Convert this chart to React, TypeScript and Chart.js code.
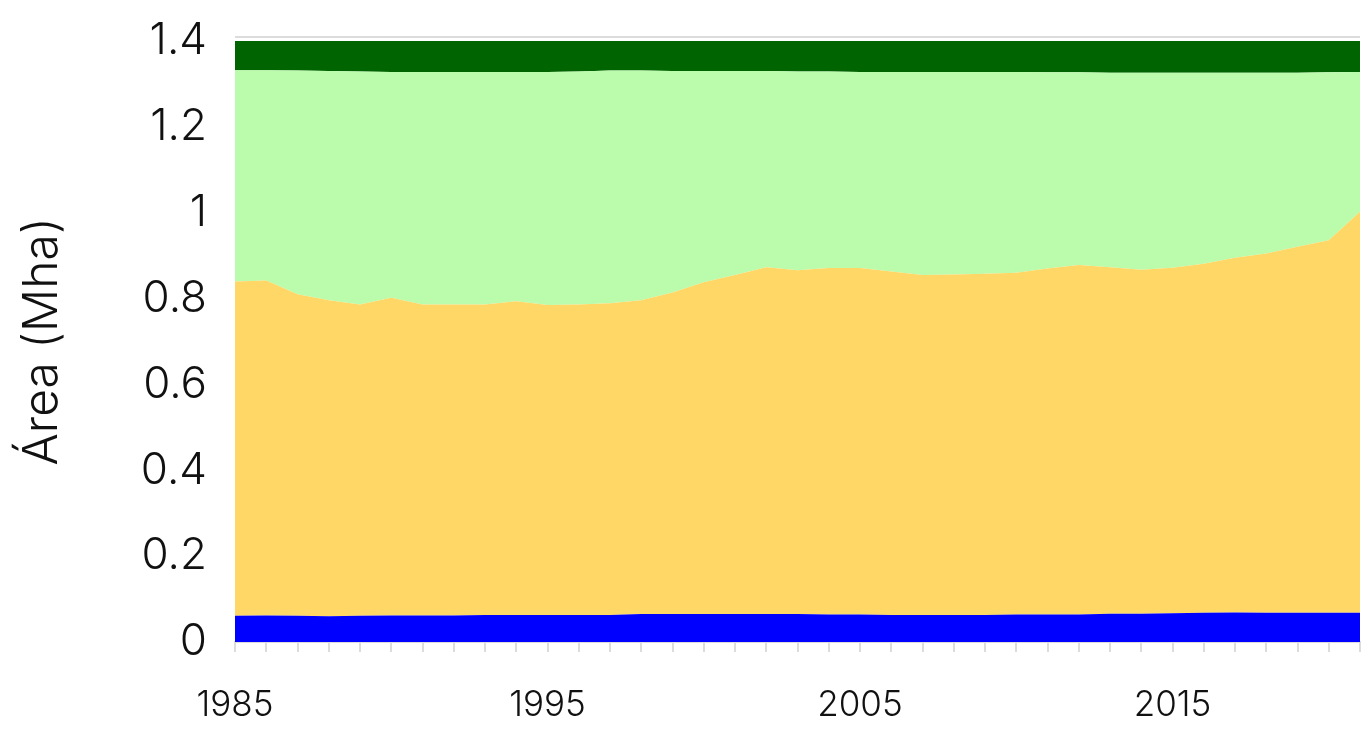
import React, { useEffect, useRef } from "react";
import { Chart, registerables } from "chart.js";

Chart.register(...registerables);

const years = [
  1985, 1986, 1987, 1988, 1989, 1990, 1991, 1992, 1993, 1994, 1995, 1996, 1997,
  1998, 1999, 2000, 2001, 2002, 2003, 2004, 2005, 2006, 2007, 2008, 2009, 2010,
  2011, 2012, 2013, 2014, 2015, 2016, 2017, 2018, 2019, 2020, 2021,
];

const waterValues = [
  0.061, 0.062, 0.061, 0.06, 0.061, 0.062, 0.062, 0.062, 0.063, 0.063, 0.063,
  0.063, 0.063, 0.065, 0.065, 0.065, 0.065, 0.065, 0.065, 0.064, 0.064, 0.063,
  0.063, 0.063, 0.063, 0.064, 0.064, 0.064, 0.066, 0.066, 0.067, 0.068, 0.069,
  0.068, 0.068, 0.068, 0.068,
];

const farmingValues = [
  0.779, 0.78, 0.749, 0.736, 0.725, 0.74, 0.724, 0.724, 0.723, 0.731, 0.722,
  0.723, 0.726, 0.731, 0.749, 0.773, 0.79, 0.808, 0.801, 0.807, 0.807, 0.8,
  0.792, 0.793, 0.795, 0.796, 0.806, 0.814, 0.807, 0.801, 0.805, 0.813, 0.826,
  0.837, 0.853, 0.868, 0.934,
];

const grasslandValues = [
  0.492, 0.49, 0.521, 0.534, 0.543, 0.526, 0.542, 0.542, 0.542, 0.534, 0.543,
  0.543, 0.542, 0.535, 0.516, 0.492, 0.475, 0.457, 0.463, 0.458, 0.457, 0.465,
  0.473, 0.472, 0.47, 0.468, 0.457, 0.449, 0.453, 0.459, 0.454, 0.445, 0.431,
  0.421, 0.405, 0.391, 0.326,
];

const forestValues = [
  0.068, 0.068, 0.069, 0.07, 0.071, 0.072, 0.072, 0.072, 0.072, 0.072, 0.072,
  0.071, 0.069, 0.069, 0.07, 0.07, 0.07, 0.07, 0.071, 0.071, 0.072, 0.072,
  0.072, 0.072, 0.072, 0.072, 0.073, 0.073, 0.074, 0.074, 0.074, 0.074, 0.074,
  0.074, 0.074, 0.073, 0.072,
];

const labeledYears = [1985, 1995, 2005, 2015];
const yTickLabels: Record<string, string> = {
  "0": "0",
  "0.2": "0.2",
  "0.4": "0.4",
  "0.6": "0.6",
  "0.8": "0.8",
  "1": "1",
  "1.2": "1.2",
  "1.4": "1.4",
};

const FONT = "Inter, 'Open Sans', sans-serif";

const topLinePlugin = {
  id: "topLine",
  afterDraw(chart: any) {
    const { ctx, chartArea } = chart;
    ctx.save();
    ctx.strokeStyle = "#dcdcdc";
    ctx.lineWidth = 2;
    ctx.beginPath();
    ctx.moveTo(chartArea.left, chartArea.top - 4);
    ctx.lineTo(chartArea.right, chartArea.top - 4);
    ctx.stroke();
    ctx.restore();
  },
};

export default function App() {
  const ref = useRef<HTMLCanvasElement | null>(null);

  useEffect(() => {
    document.body.style.margin = "0";
    if (!ref.current) return;
    const mk = (label: string, data: number[], color: string, fill: any) => ({
      label,
      data,
      backgroundColor: color,
      borderColor: color,
      borderWidth: 0,
      pointRadius: 0,
      pointHoverRadius: 0,
      fill,
      tension: 0,
    });
    const chart = new Chart(ref.current, {
      type: "line",
      data: {
        labels: years.map(String),
        datasets: [
          mk("Água", waterValues, "#0000ff", "origin"),
          mk("Agropecuária", farmingValues, "#fed766", "-1"),
          mk("Formação natural não florestal", grasslandValues, "#bafcab", "-1"),
          mk("Floresta", forestValues, "#006400", "-1"),
        ],
      },
      options: {
        animation: false,
        responsive: false,
        maintainAspectRatio: false,
        layout: { padding: { top: 41, right: 9, left: 0, bottom: 0 } },
        plugins: {
          legend: { display: false },
          tooltip: { enabled: false },
        },
        scales: {
          x: {
            type: "category",
            offset: false,
            grid: {
              display: true,
              drawOnChartArea: false,
              drawTicks: true,
              tickLength: 10,
              color: "#dcdcdc",
              lineWidth: 2,
            },
            border: { display: true, color: "#dcdcdc", width: 2 },
            ticks: {
              autoSkip: false,
              maxRotation: 0,
              padding: 32,
              color: "#111",
              font: { family: FONT, size: 35, weight: "300" },
              callback: (_v: any, i: number) =>
                labeledYears.includes(years[i]) ? String(years[i]) : "",
            },
            afterFit: (s: any) => {
              s.height = 101;
              s.paddingLeft = 0;
              s.paddingRight = 0;
            },
          },
          y: {
            stacked: true,
            min: 0,
            max: 1.4,
            grid: { display: false, drawTicks: false },
            border: { display: false },
            ticks: {
              stepSize: 0.2,
              padding: 28,
              color: "#111",
              font: { family: FONT, size: 44, weight: "300" },
              callback: (v: any) => {
                const k = String(Math.round(Number(v) * 10) / 10);
                return yTickLabels[k] ?? k;
              },
            },
            title: {
              display: true,
              text: "Área (Mha)",
              color: "#111",
              font: { family: FONT, size: 48, weight: "300" },
              padding: { top: 14, bottom: 0 },
            },
            afterFit: (s: any) => {
              s.width = 235;
              s.paddingTop = 0;
              s.paddingBottom = 0;
            },
          },
        },
      },
      plugins: [topLinePlugin],
    });
    return () => chart.destroy();
  }, []);

  return (
    <div style={{ position: "relative", width: 1369, height: 743 }}>
      <canvas ref={ref} width={1369} height={743} style={{ display: "block" }} />
    </div>
  );
}
